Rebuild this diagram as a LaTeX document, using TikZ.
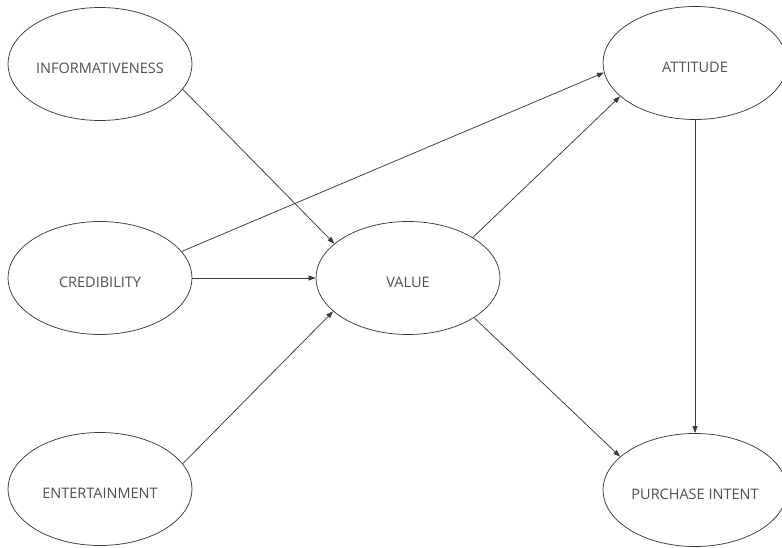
\documentclass[tikz,border=0pt]{standalone}
\usepackage{fontspec}
\setmainfont{Open Sans}
\usetikzlibrary{shapes.geometric,arrows.meta}
\definecolor{linec}{HTML}{3A3A3A}
\definecolor{textc}{HTML}{505050}
\tikzset{
  construct/.style={ellipse, draw=linec, line width=0.75pt, minimum width=184pt, minimum height=113pt, inner sep=0pt},
  lbl/.style={font=\fontsize{14.5}{16}\selectfont, text=textc, yshift=-4pt},
  link/.style={draw=linec, line width=0.75pt, -{Triangle[length=7pt,width=5pt]}}
}
\begin{document}
\begin{tikzpicture}[x=1pt,y=-1pt]
\useasboundingbox (0,0) rectangle (782,548);
\node[construct, label={[lbl]center:INFORMATIVENESS}] (inf) at (100,64) {};
\node[construct, label={[lbl]center:CREDIBILITY}] (cred) at (100,278) {};
\node[construct, label={[lbl]center:ENTERTAINMENT}] (ent) at (100,489) {};
\node[construct, label={[lbl]center:VALUE}] (val) at (408,278) {};
\node[construct, label={[lbl]center:ATTITUDE}] (att) at (695,63) {};
\node[construct, label={[lbl]center:PURCHASE INTENT}] (pi) at (695,490) {};
\draw[link] (inf.-17.4) -- (val.155.8);
\draw[link] (cred.0) -- (val.180);
\draw[link] (cred.18.6) -- (att.186.7);
\draw[link] (ent.17.4) -- (val.204.8);
\draw[link] (val.32.2) -- (att.204.2);
\draw[link] (val.-31.6) -- (pi.156.4);
\draw[link] (att.south) -- (pi.north);
\end{tikzpicture}
\end{document}
